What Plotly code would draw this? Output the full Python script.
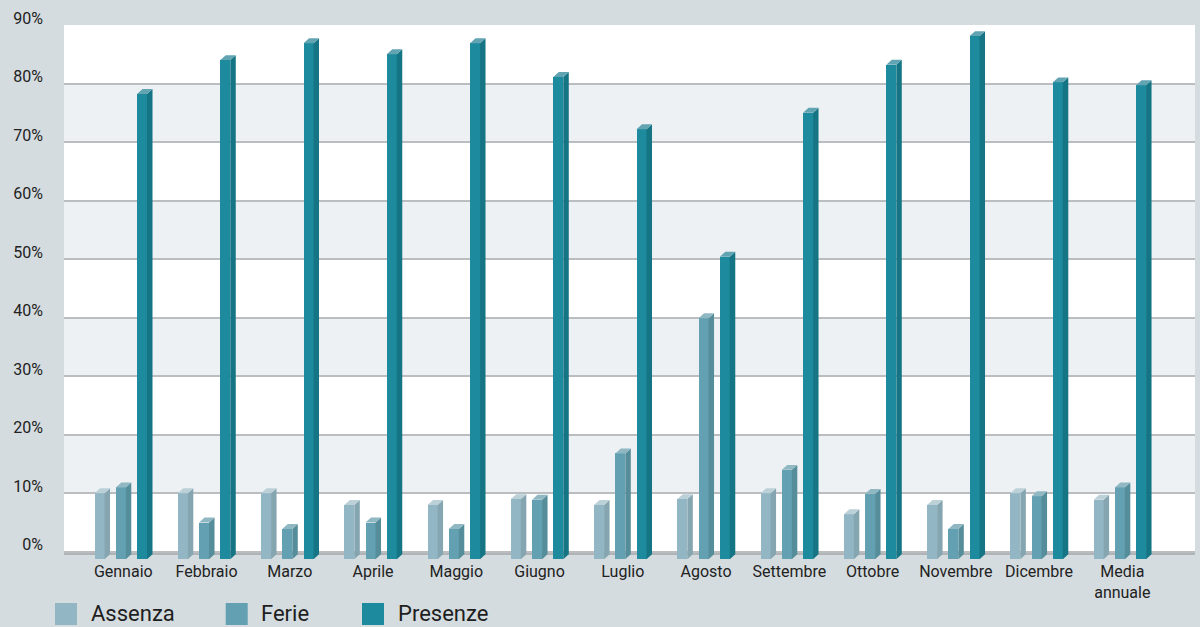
import plotly.graph_objects as go

# --- data -------------------------------------------------------------
mesi = ["Gennaio", "Febbraio", "Marzo", "Aprile", "Maggio", "Giugno", "Luglio",
        "Agosto", "Settembre", "Ottobre", "Novembre", "Dicembre", "Media<br>annuale"]
assenza = [10, 10, 10, 8, 8, 9, 8, 9, 10, 6.4, 8, 10, 8.9]
ferie = [11, 5, 3.9, 5, 3.9, 8.9, 16.8, 39.9, 14, 9.9, 3.9, 9.5, 11]
presenze = [78.2, 84, 86.9, 85, 86.9, 81.1, 72.2, 50.4, 75, 83.2, 88.1, 80.2, 79.7]
y_ticks = [0, 10, 20, 30, 40, 50, 60, 70, 80, 90]
y_tick_labels = ["0%", "10%", "20%", "30%", "40%", "50%", "60%", "70%", "80%", "90%"]
serie = ["Assenza", "Ferie", "Presenze"]

# --- styling ----------------------------------------------------------
BG = "#d5dcdf"
BAND = "#edf1f4"
GRID = "#babec1"
FLOOR_COL = "#b0b4b6"
FONT = "Roboto"
colors = {
    "Assenza": ("#93b6c4", "#85a6b1", "#bcd0d8"),
    "Ferie": ("#63a0b1", "#568d9a", "#8fb8c3"),
    "Presenze": ("#1d8a9e", "#167584", "#62a4b2"),
}
offsets = {"Assenza": -0.285, "Ferie": -0.030, "Presenze": 0.225}

BAR_W = 0.12      # front face width (category units)
DX = 0.066        # depth, horizontal (category units)
DY = 0.85         # depth, vertical (percent units)
FLOOR = 1.26      # how far the front faces drop below the back-wall zero

Y_MIN, Y_MAX = -1.4, 90
X_MIN, X_MAX = -0.712, 12.873

fig = go.Figure()

values = {"Assenza": assenza, "Ferie": ferie, "Presenze": presenze}
xs = list(range(len(mesi)))

for name in serie:
    front, side, top = colors[name]
    vals = values[name]
    xc = [i + offsets[name] for i in xs]
    # front faces
    fig.add_trace(go.Bar(
        x=xc, y=[v + FLOOR for v in vals], base=[-FLOOR] * len(vals),
        width=BAR_W, marker=dict(color=front, line=dict(width=0)),
        name=name, showlegend=False, hoverinfo="skip",
    ))
    # side and top faces of each column
    sx, sy, tx, ty = [], [], [], []
    for c, v in zip(xc, vals):
        xl, xr = c - BAR_W / 2, c + BAR_W / 2
        sx += [xr, xr + DX, xr + DX, xr, xr, None]
        sy += [-FLOOR, -FLOOR + DY, v + DY, v, -FLOOR, None]
        tx += [xl, xl + DX, xr + DX, xr, xl, None]
        ty += [v, v + DY, v + DY, v, v, None]
    fig.add_trace(go.Scatter(x=sx, y=sy, mode="lines", fill="toself",
                             fillcolor=side, line=dict(width=0, color=side),
                             showlegend=False, hoverinfo="skip"))
    fig.add_trace(go.Scatter(x=tx, y=ty, mode="lines", fill="toself",
                             fillcolor=top, line=dict(width=0, color=top),
                             showlegend=False, hoverinfo="skip"))

shapes = []
# alternating bands on the back wall
for k in range(len(y_ticks) - 1):
    shapes.append(dict(type="rect", xref="paper", yref="y", x0=0, x1=1,
                       y0=y_ticks[k], y1=y_ticks[k + 1], layer="below",
                       line=dict(width=0),
                       fillcolor="#ffffff" if k % 2 == 0 else BAND))
# floor edge
shapes.append(dict(type="rect", xref="paper", yref="y", x0=0, x1=1,
                   y0=-0.56, y1=0, layer="below", line=dict(width=0),
                   fillcolor=FLOOR_COL))

# legend drawn as swatches + labels below the plot
L, R, T, B = 64, 1195, 25, 560
def px(x):
    return (x - L) / (R - L)
def py(y):
    return (B - y) / (B - T)

annotations = []
legend_pos = [(55, 89), (225.7, 259), (362, 396)]
for name, (sq, tx_) in zip(serie, legend_pos):
    shapes.append(dict(type="rect", xref="paper", yref="paper",
                       x0=px(sq), x1=px(sq + 22), y0=py(625), y1=py(603),
                       line=dict(width=0), fillcolor=colors[name][0]))
    annotations.append(dict(xref="paper", yref="paper", x=px(tx_), y=py(613),
                            xanchor="left", yanchor="middle", showarrow=False,
                            text=name, font=dict(family=FONT, size=22, color="#1e1e1e")))

fig.update_layout(
    width=1200, height=627,
    margin=dict(l=L, r=1200 - R, t=T, b=627 - B, pad=0),
    paper_bgcolor=BG, plot_bgcolor=BG,
    barmode="overlay", bargap=0,
    shapes=shapes, annotations=annotations,
    showlegend=False,
    font=dict(family=FONT, color="#222222"),
)
fig.update_xaxes(
    range=[X_MIN, X_MAX], tickmode="array", tickvals=xs, ticktext=mesi,
    showgrid=False, zeroline=False, showline=False, ticks="",
    tickfont=dict(family=FONT, size=16, color="#222222"),
    fixedrange=True,
)
fig.update_yaxes(
    range=[Y_MIN, Y_MAX], tickmode="array", tickvals=y_ticks, ticktext=y_tick_labels,
    showgrid=True, gridcolor=GRID, gridwidth=1.5, zeroline=False, showline=False,
    ticks="", ticklabelshift=-7, ticklabelstandoff=20,
    tickfont=dict(family=FONT, size=16, color="#222222"),
    fixedrange=True,
)

fig.write_html("out.html")
